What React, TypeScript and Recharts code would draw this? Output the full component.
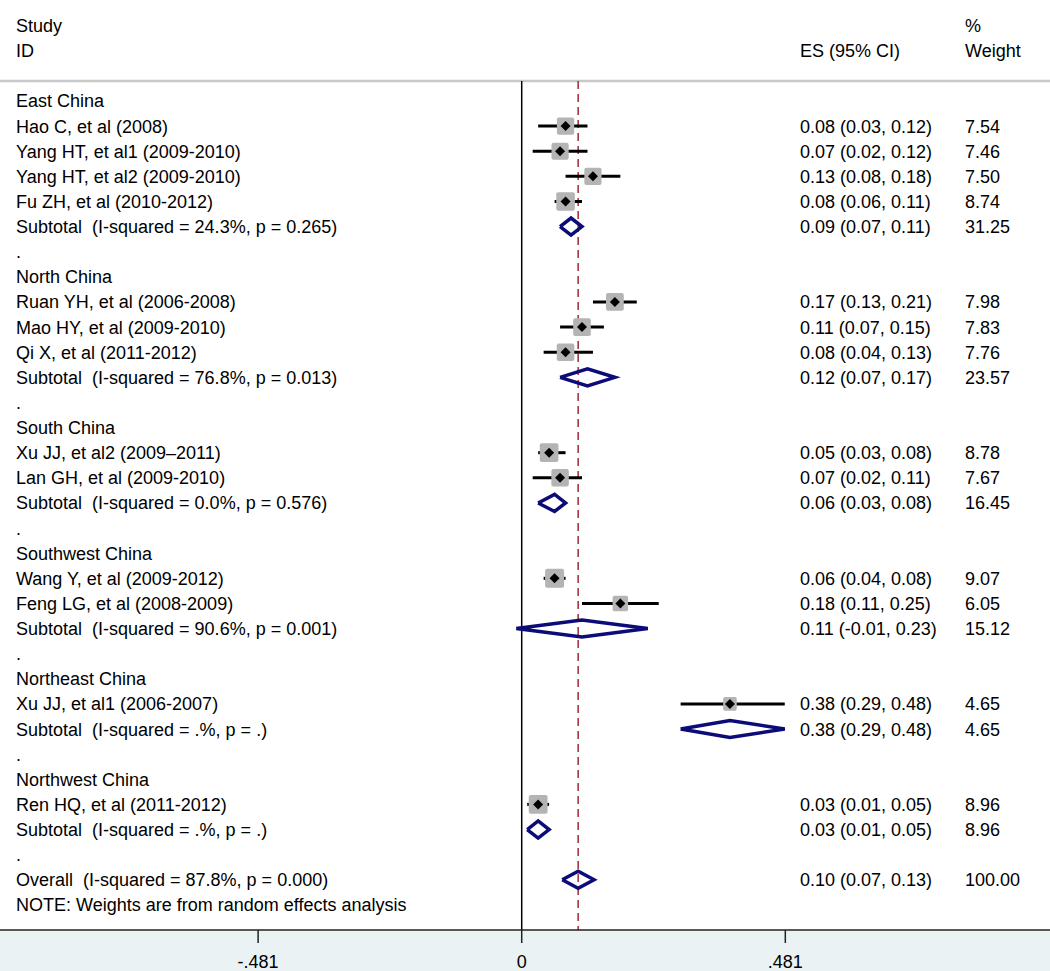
import { ComposedChart, Scatter, XAxis, YAxis, ReferenceLine, ErrorBar } from "recharts";

const GROUP_NAMES = [
  "East China",
  "North China",
  "South China",
  "Southwest China",
  "Northeast China",
  "Northwest China",
];

const STUDY_IDS = [
  "Hao C, et al (2008)",
  "Yang HT, et al1 (2009-2010)",
  "Yang HT, et al2 (2009-2010)",
  "Fu ZH, et al (2010-2012)",
  "Ruan YH, et al (2006-2008)",
  "Mao HY, et al (2009-2010)",
  "Qi X, et al (2011-2012)",
  "Xu JJ, et al2 (2009–2011)",
  "Lan GH, et al (2009-2010)",
  "Wang Y, et al (2009-2012)",
  "Feng LG, et al (2008-2009)",
  "Xu JJ, et al1 (2006-2007)",
  "Ren HQ, et al (2011-2012)",
];
const STUDY_GROUP = [0, 0, 0, 0, 1, 1, 1, 2, 2, 3, 3, 4, 5];
const STUDY_ES = [0.08, 0.07, 0.13, 0.08, 0.17, 0.11, 0.08, 0.05, 0.07, 0.06, 0.18, 0.38, 0.03];
const STUDY_LO = [0.03, 0.02, 0.08, 0.06, 0.13, 0.07, 0.04, 0.03, 0.02, 0.04, 0.11, 0.29, 0.01];
const STUDY_HI = [0.12, 0.12, 0.18, 0.11, 0.21, 0.15, 0.13, 0.08, 0.11, 0.08, 0.25, 0.48, 0.05];
const STUDY_WEIGHT = [7.54, 7.46, 7.5, 8.74, 7.98, 7.83, 7.76, 8.78, 7.67, 9.07, 6.05, 4.65, 8.96];

const SUBTOTAL_HET = [
  "(I-squared = 24.3%, p = 0.265)",
  "(I-squared = 76.8%, p = 0.013)",
  "(I-squared = 0.0%, p = 0.576)",
  "(I-squared = 90.6%, p = 0.001)",
  "(I-squared = .%, p = .)",
  "(I-squared = .%, p = .)",
];
const SUBTOTAL_ES = [0.09, 0.12, 0.06, 0.11, 0.38, 0.03];
const SUBTOTAL_LO = [0.07, 0.07, 0.03, -0.01, 0.29, 0.01];
const SUBTOTAL_HI = [0.11, 0.17, 0.08, 0.23, 0.48, 0.05];
const SUBTOTAL_WEIGHT = [31.25, 23.57, 16.45, 15.12, 4.65, 8.96];

const OVERALL_HET = "(I-squared = 87.8%, p = 0.000)";
const OVERALL_ES = 0.103;
const OVERALL_LO = 0.074;
const OVERALL_HI = 0.132;
const OVERALL_WEIGHT = 100;

const NOTE = "NOTE: Weights are from random effects analysis";
const X_TICKS = [-0.481, 0, 0.481];

const NAVY = "#0c0c78";
const MAROON = "#9e2a36";
const FONT = "'Liberation Sans', Arial, sans-serif";
const TEXT_STYLE = { fontFamily: FONT, fontSize: 18, fill: "#000", whiteSpace: "pre" } as const;

type Row = {
  pos: number;
  label: string;
  kind: "header" | "group" | "study" | "sub" | "blank" | "overall" | "note";
  es?: number;
  lo?: number;
  hi?: number;
  wt?: number;
  esText?: string;
  wtText?: string;
};

// row layout: group header, studies, subtotal, "." spacer
const ROWS: Row[] = [
  { pos: -3, label: "Study", kind: "header", wtText: "%" },
  { pos: -2, label: "ID", kind: "header", esText: "ES (95% CI)", wtText: "Weight" },
];
let pos = 0;
GROUP_NAMES.forEach((g, gi) => {
  ROWS.push({ pos: pos++, label: g, kind: "group" });
  STUDY_IDS.forEach((name, i) => {
    if (STUDY_GROUP[i] !== gi) return;
    ROWS.push({
      pos: pos++,
      label: name,
      kind: "study",
      es: STUDY_ES[i],
      lo: STUDY_LO[i],
      hi: STUDY_HI[i],
      wt: STUDY_WEIGHT[i],
    });
  });
  ROWS.push({
    pos: pos++,
    label: "Subtotal  " + SUBTOTAL_HET[gi],
    kind: "sub",
    es: SUBTOTAL_ES[gi],
    lo: SUBTOTAL_LO[gi],
    hi: SUBTOTAL_HI[gi],
    wt: SUBTOTAL_WEIGHT[gi],
  });
  ROWS.push({ pos: pos++, label: ".", kind: "blank" });
});
ROWS.push({
  pos: pos++,
  label: "Overall  " + OVERALL_HET,
  kind: "overall",
  es: OVERALL_ES,
  lo: OVERALL_LO,
  hi: OVERALL_HI,
  wt: OVERALL_WEIGHT,
});
ROWS.push({ pos: pos++, label: NOTE, kind: "note" });

const TOP_RULE = -0.796;
const Y_DOMAIN: [number, number] = [-4.02, 33];
const X_DOMAIN: [number, number] = [-0.952, 0.964];
const DIAMOND_HALF = 0.34;

const studyPoints = ROWS.filter((r) => r.kind === "study").map((r) => ({
  x: r.es!,
  y: r.pos,
  w: r.wt!,
  err: [r.es! - r.lo!, r.hi! - r.es!],
}));

const diamonds = ROWS.filter((r) => r.kind === "sub" || r.kind === "overall").map((r) => [
  { x: r.lo!, y: r.pos },
  { x: r.es!, y: r.pos - DIAMOND_HALF },
  { x: r.hi!, y: r.pos },
  { x: r.es!, y: r.pos + DIAMOND_HALF },
  { x: r.lo!, y: r.pos },
]);

// one anchor point per text row, placed at the left edge of the plot
const labelPoints = ROWS.map((r) => ({ x: X_DOMAIN[0], y: r.pos, row: r }));

function fmtCI(r: Row) {
  return `${r.es!.toFixed(2)} (${r.lo!.toFixed(2)}, ${r.hi!.toFixed(2)})`;
}

function RowText(props: any) {
  const { cy, payload } = props;
  const row: Row = payload.row;
  const es = row.esText ?? (row.es != null ? fmtCI(row) : null);
  const wt = row.wtText ?? (row.wt != null ? row.wt.toFixed(2) : null);
  return (
    <g>
      <text x={16} y={cy} dy="0.36em" style={TEXT_STYLE}>
        {row.label}
      </text>
      {es && (
        <text x={800} y={cy} dy="0.36em" style={TEXT_STYLE}>
          {es}
        </text>
      )}
      {wt && (
        <text x={965} y={cy} dy="0.36em" style={TEXT_STYLE}>
          {wt}
        </text>
      )}
    </g>
  );
}

function BoxShape(props: any) {
  const { cx, cy, payload } = props;
  const side = 6.3 * Math.sqrt(payload.w);
  return (
    <rect x={cx - side / 2} y={cy - side / 2} width={side} height={side} rx={2} fill="#b4b4b4" />
  );
}

function PointShape(props: any) {
  const { cx, cy } = props;
  const d = 5;
  return <polygon points={`${cx - d},${cy} ${cx},${cy - d} ${cx + d},${cy} ${cx},${cy + d}`} fill="#000" />;
}

function formatTick(v: number) {
  if (v === 0) return "0";
  return v.toFixed(3).replace("0.", ".");
}

export default function App() {
  return (
    <div
      style={{
        position: "absolute",
        left: 0,
        top: 0,
        width: 1050,
        height: 971,
        background: "linear-gradient(to bottom, #ffffff 0px, #ffffff 930px, #eaf2f3 930px)",
      }}
    >
      <ComposedChart width={1050} height={971} margin={{ top: 0, right: 0, left: 0, bottom: 0 }}>
        <XAxis
          type="number"
          dataKey="x"
          domain={X_DOMAIN}
          allowDataOverflow
          ticks={X_TICKS}
          interval={0}
          tickFormatter={formatTick}
          height={41}
          tickSize={13}
          tickMargin={12}
          axisLine={{ stroke: "#222", strokeWidth: 1.5 }}
          tickLine={{ stroke: "#222", strokeWidth: 1.5 }}
          tick={{ fontFamily: FONT, fontSize: 18, fill: "#000" }}
        />
        <YAxis type="number" dataKey="y" domain={Y_DOMAIN} allowDataOverflow reversed hide />
        <ReferenceLine y={TOP_RULE} stroke="#c8c8c8" strokeWidth={2.5} />
        <ReferenceLine
          segment={[
            { x: 0, y: TOP_RULE },
            { x: 0, y: Y_DOMAIN[1] },
          ]}
          stroke="#000"
          strokeWidth={1.5}
        />
        <ReferenceLine
          segment={[
            { x: OVERALL_ES, y: TOP_RULE },
            { x: OVERALL_ES, y: Y_DOMAIN[1] },
          ]}
          stroke={MAROON}
          strokeWidth={1.5}
          strokeDasharray="8 5"
        />
        <Scatter data={labelPoints} shape={RowText} isAnimationActive={false} legendType="none" />
        <Scatter data={studyPoints} shape={BoxShape} isAnimationActive={false} legendType="none" />
        <Scatter data={studyPoints} shape={PointShape} isAnimationActive={false} legendType="none">
          <ErrorBar
            dataKey="err"
            direction="x"
            width={0}
            stroke="#000"
            strokeWidth={3}
            isAnimationActive={false}
          />
        </Scatter>
        {diamonds.map((pts, i) => (
          <Scatter
            key={i}
            data={pts}
            shape={() => <g />}
            line={{ stroke: NAVY, strokeWidth: 3.5 }}
            lineType="joint"
            isAnimationActive={false}
            legendType="none"
          />
        ))}
      </ComposedChart>
    </div>
  );
}
